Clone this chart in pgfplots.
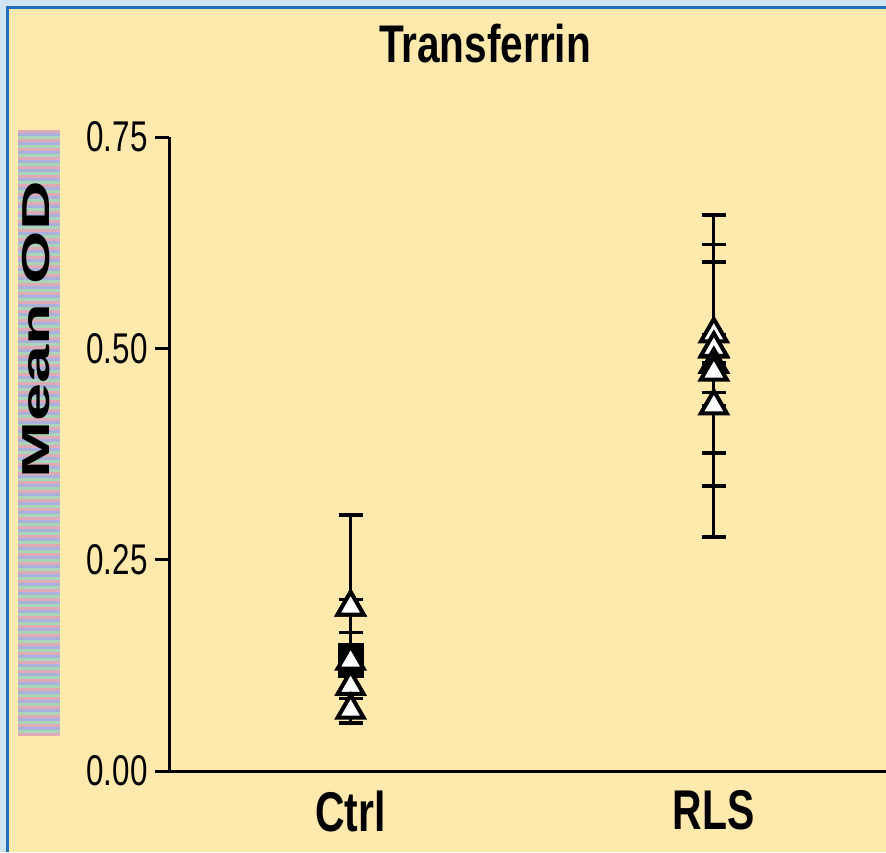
\documentclass[border=0pt]{standalone}
\usepackage{pgfplots}
\pgfplotsset{compat=1.18}
\usepackage{fontspec}
\setmainfont{Liberation Sans}
\newfontfamily\tickfont{Liberation Sans}[FakeStretch=0.73]
\newfontfamily\titlefont{Liberation Sans}[FakeStretch=0.765]
\newfontfamily\catfont{Liberation Sans}[FakeStretch=0.73]
\newfontfamily\ylabfont{Liberation Sans}[FakeStretch=1.76]
\definecolor{paper}{HTML}{FFE9AD}
\definecolor{frameout}{HTML}{CFE3F1}
\definecolor{frameline}{HTML}{1F6FB8}
\definecolor{stripeA}{HTML}{DDAAB6}
\definecolor{stripeB}{HTML}{AAD4B8}
\definecolor{stripeC}{HTML}{AAB0DC}

\begin{document}
\begin{tikzpicture}[x=1pt,y=1pt]
% frame and paper
\fill[frameout] (0,0) rectangle (886,852);
\fill[paper] (9,0) rectangle (886,843);
\draw[frameline, line width=2.5pt] (7.5,0) -- (7.5,844.5) -- (886,844.5);
% striped y label box
\foreach \i in {0,...,201} {
  \pgfmathtruncatemacro{\k}{mod(\i,3)}
  \ifcase\k \def\sc{stripeA}\or \def\sc{stripeB}\else \def\sc{stripeC}\fi
  \fill[\sc] (18,{116+3*\i}) rectangle (60,{116+3*\i+3});
}
\node[rotate=90, font=\ylabfont\bfseries\fontsize{39}{42}\selectfont, inner sep=0pt] at (36,522) {Mean OD};
% title
\node[font=\titlefont\bfseries\fontsize{53}{56}\selectfont, inner sep=0pt] at (485,808) {Transferrin};

\begin{axis}[
  at={(169pt,81pt)}, anchor=south west,
  scale only axis, width=717pt, height=634pt,
  xmin=-0.5, xmax=1.474, ymin=0, ymax=0.75,
  axis x line=bottom, axis y line=left,
  axis line style={line width=3pt, -},
  xtick={0,1}, xticklabels={Ctrl,RLS},
  x tick label style={font=\catfont\bfseries\fontsize{56}{60}\selectfont, yshift=-2pt},
  major x tick style={draw=none},
  ytick={0,0.25,0.5,0.75},
  y tick label style={font=\tickfont\fontsize{43}{46}\selectfont, xshift=-4pt,
    /pgf/number format/.cd, fixed, fixed zerofill, precision=2, assume math mode=true},
  tick align=outside, major tick length=14pt,
  y tick style={line width=3pt, black},
  clip=false,
]
% dark blob behind the Ctrl triangles
\addplot[only marks, mark=square*, mark size=12.5pt, mark options={yscale=1.35, fill=black, draw=black}]
  coordinates {(0,0.131)};
% Ctrl
\addplot[only marks, mark=triangle*, mark size=15pt,
  mark options={fill=white, draw=black, line width=4pt},
  error bars/.cd, y dir=both, y explicit,
  error bar style={line width=3pt, black},
  error mark options={rotate=90, mark size=12pt, line width=3.5pt, black}]
  coordinates {
  (0,0.194) += (0,0.109) -= (0,0.030)
  (0,0.194) += (0,0.009) -= (0,0.009)
  (0,0.130) += (0,0.034) -= (0,0.014)
  (0,0.100) += (0,0.014) -= (0,0.014)
  (0,0.072) += (0,0.014) -= (0,0.015)
};
% RLS
\addplot[only marks, mark=triangle*, mark size=15pt,
  mark options={fill=white, draw=black, line width=4pt},
  error bars/.cd, y dir=both, y explicit,
  error bar style={line width=3pt, black},
  error mark options={rotate=90, mark size=12pt, line width=3.5pt, black}]
  coordinates {
  (1,0.517) += (0,0.141) -= (0,0.180)
  (1,0.499) += (0,0.124) -= (0,0.123)
  (1,0.500) += (0,0.016) -= (0,0.017)
  (1,0.481) += (0,0.121) -= (0,0.204)
  (1,0.472) += (0,0.009) -= (0,0.009)
  (1,0.432) += (0,0.016) -= (0,0.000)
};
\end{axis}
\pgfresetboundingbox
\path[use as bounding box] (0,0) rectangle (886,852);
\end{tikzpicture}
\end{document}
